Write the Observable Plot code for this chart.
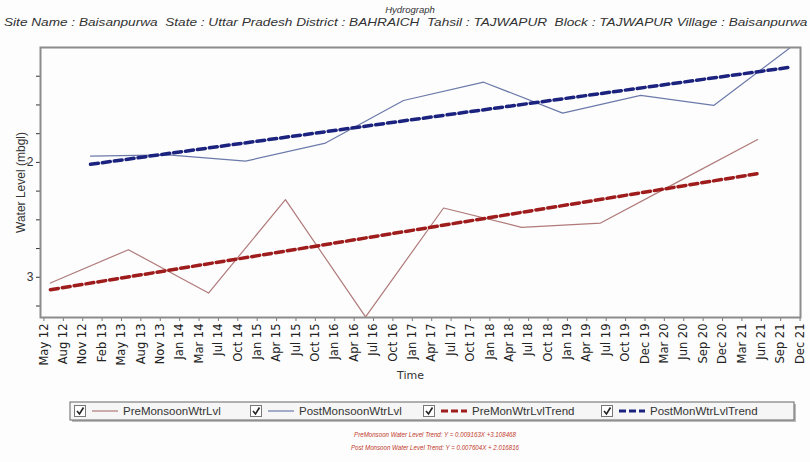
<!DOCTYPE html>
<html><head><meta charset="utf-8">
<script src="https://cdn.jsdelivr.net/npm/d3@7"></script>
<script src="https://cdn.jsdelivr.net/npm/@observablehq/plot@0.6"></script>
<style>
body{margin:0;background:#fdfdfd;width:810px;height:462px;position:relative;overflow:hidden;font-family:"Liberation Sans",Arial,sans-serif;}
#title{position:absolute;left:0;top:4px;width:820px;text-align:center;font-style:italic;font-size:9.5px;color:#333}
#subtitle{position:absolute;left:4px;top:16px;white-space:nowrap;font-style:italic;font-size:10.5px;color:#333;transform-origin:0 0}
#chart{position:absolute;left:0;top:30px}
#legend{position:absolute;left:0;top:398px}
#eq{position:absolute;left:0;top:428px;width:870px;text-align:center;font-style:italic;font-size:7px;line-height:13px;color:#c0392b;transform:scaleX(0.88);transform-origin:435px 0}
</style></head>
<body>
<div id="title">Hydrograph</div>
<div id="subtitle">Site Name : Baisanpurwa&nbsp; State : Uttar Pradesh District : BAHRAICH&nbsp; Tahsil : TAJWAPUR&nbsp; Block : TAJWAPUR Village : Baisanpurwa</div>
<div id="chart"></div>
<div id="legend"></div>
<div id="eq"></div>
<script>
// ---- data ----
const tickLabels = ["May 12","Aug 12","Nov 12","Feb 13","May 13","Aug 13","Nov 13","Jan 14","Mar 14","Jul 14",
  "Oct 14","Jan 15","Apr 15","Jul 15","Oct 15","Jan 16","Apr 16","Jul 16","Oct 16","Jan 17",
  "Apr 17","Jul 17","Oct 17","Jan 18","Apr 18","Jul 18","Oct 18","Jan 19","Apr 19","Jul 19",
  "Oct 19","Dec 19","Mar 20","Jun 20","Sep 20","Dec 20","Mar 21","Jun 21","Sep 21","Dec 21"];
const preDates = ["2012-06-05","2013-06-02","2014-06-09","2015-06-01","2016-06-07","2017-06-04","2018-06-01","2019-06-03","2020-05-31","2021-06-01"];
const preValues = [3.05, 2.76, 3.137, 2.324, 3.345, 2.397, 2.565, 2.528, 2.165, 1.80];
const postDates = ["2012-12-08","2013-12-03","2014-11-28","2015-12-04","2016-11-30","2017-12-07","2018-12-09","2019-12-06","2020-11-09","2021-11-25"];
const postValues = [1.945, 1.935, 1.989, 1.832, 1.461, 1.302, 1.571, 1.417, 1.504, 0.965];
const preTrendDates = ["2012-06-05","2021-06-01"];
const preTrendValues = [3.108, 2.098];
const postTrendDates = ["2012-12-08","2021-11-02"];
const postTrendValues = [2.017, 1.171];
const yTicks = [1.25,1.5,1.75,2,2.25,2.5,2.75,3,3.25];
const yTickLabels = {2:"2", 3:"3"};
const seriesNames = ["PreMonsoonWtrLvl","PostMonsoonWtrLvl","PreMonWtrLvlTrend","PostMonWtrLvlTrend"];
const equations = ["PreMonsoon Water Level Trend: Y = 0.009163X +3.108468","Post Monsoon Water Level Trend: Y = 0.007604X + 2.016816"];

// ---- styles ----
const preColor = "#b07a7a", postColor = "#6c7aaa", preTrendColor = "#9e1c1c", postTrendColor = "#1c237e";

const toRows = (ds, vs) => ds.map((d, i) => ({date: new Date(d), value: vs[i]}));
const pre = toRows(preDates, preValues), post = toRows(postDates, postValues);
const preTrend = toRows(preTrendDates, preTrendValues), postTrend = toRows(postTrendDates, postTrendValues);

const t0 = new Date(Date.UTC(2012, 4, 6));
const tickDates = tickLabels.map((_, i) => d3.utcDay.offset(t0, 90 * i));
const labelOf = new Map(tickDates.map((d, i) => [+d, tickLabels[i]]));

const chart = Plot.plot({
  width: 810, height: 365,
  marginLeft: 40, marginRight: 10, marginTop: 17, marginBottom: 78,
  style: {fontFamily: "'Liberation Sans', Arial, sans-serif", fontSize: "11px", color: "#333", background: "transparent"},
  x: {type: "utc", domain: [new Date("2012-04-20"), new Date("2021-12-17")]},
  y: {domain: [1, 3.35], reverse: true},
  marks: [
    Plot.axisX({ticks: tickDates, tickFormat: d => labelOf.get(+d), tickRotate: -90, tickSize: 4, tickPadding: 2, label: null, fontFamily: "DejaVu Sans", fontSize: 11.5, stroke: "#777", fill: "#222"}),
    Plot.axisY({ticks: yTicks, tickFormat: d => yTickLabels[d] || "", tickSize: 4, tickPadding: 3, fontSize: 12, label: "Water Level (mbgl)", labelAnchor: "center", labelArrow: "none", labelOffset: 24}),
    Plot.line(pre, {x: "date", y: "value", stroke: preColor, strokeWidth: 1.2, clip: true}),
    Plot.line(post, {x: "date", y: "value", stroke: postColor, strokeWidth: 1.2, clip: true}),
    Plot.line(preTrend, {x: "date", y: "value", stroke: preTrendColor, strokeWidth: 3.5, strokeDasharray: "8,4", clip: true}),
    Plot.line(postTrend, {x: "date", y: "value", stroke: postTrendColor, strokeWidth: 3.5, strokeDasharray: "8,4", clip: true}),
    Plot.frame({stroke: "#8c8c8c", strokeWidth: 2}),
    Plot.text(["Time"], {frameAnchor: "bottom", dy: 61, dx: -10, fontSize: 11, fontFamily: "DejaVu Sans"})
  ]
});
document.getElementById("chart").appendChild(chart);

// subtitle fit
const sub = document.getElementById("subtitle");
sub.style.transform = `scaleX(${804 / sub.scrollWidth})`;

// legend
const leg = d3.select("#legend").append("svg").attr("width", 810).attr("height", 26);
leg.append("rect").attr("x", 72).attr("y", 6).attr("width", 724).attr("height", 18).attr("fill", "#bbb");
leg.append("rect").attr("x", 70).attr("y", 4).attr("width", 724).attr("height", 18).attr("fill", "#f6f6f6").attr("stroke", "#666");
const itemX = [72, 248, 421, 599];
const itemStyle = [[preColor, 1.2, null], [postColor, 1.2, null], [preTrendColor, 3, "7,3"], [postTrendColor, 3, "7,3"]];
seriesNames.forEach((name, i) => {
  const g = leg.append("g").attr("transform", `translate(${itemX[i]},0)`);
  g.append("rect").attr("x", 2.5).attr("y", 7.5).attr("width", 11).attr("height", 11).attr("fill", "#fff").attr("stroke", "#777");
  g.append("path").attr("d", "M5,13 L7.5,16 L11.5,9.5").attr("fill", "none").attr("stroke", "#222").attr("stroke-width", 1.6);
  const [c, w, dash] = itemStyle[i];
  g.append("line").attr("x1", 20).attr("x2", 46).attr("y1", 13).attr("y2", 13).attr("stroke", c).attr("stroke-width", w).attr("stroke-dasharray", dash);
  g.append("text").attr("x", 51).attr("y", 17).attr("font-size", 11.5).attr("fill", "#333")
    .attr("font-family", "'Liberation Sans', Arial, sans-serif").text(name);
});

// equations
d3.select("#eq").selectAll("div").data(equations).join("div").text(d => d);
</script>
</body></html>
